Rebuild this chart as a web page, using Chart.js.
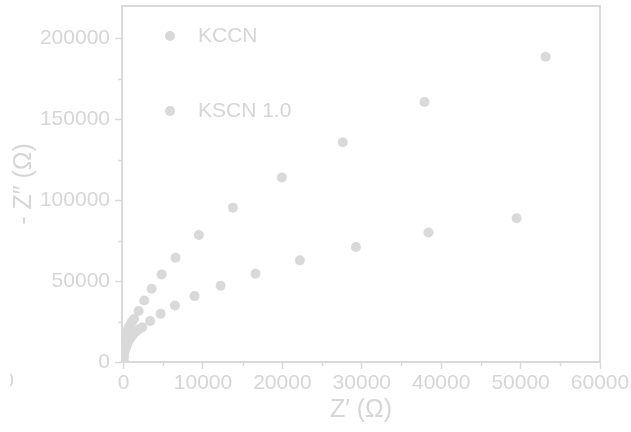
<!DOCTYPE html>
<html>
<head>
<meta charset="utf-8">
<script src="https://cdn.jsdelivr.net/npm/chart.js@4"></script>
<style>
  html, body { margin: 0; padding: 0; background: #ffffff; }
  #wrap { width: 631px; height: 432px; }
</style>
</head>
<body>
<div id="wrap"><canvas id="c" width="631" height="432"></canvas></div>
<script>
// ---- data ----
const seriesNames = ['KCCN', 'KSCN 1.0'];

const kccnX = [53150, 37900, 27600, 19940, 13770, 9480, 6550, 4790, 3530, 2610, 1890, 1320,
               1080, 880, 720, 570, 460, 380, 300, 250, 180, 130, 90, 60, 30, 0, 0, 0, 0];
const kccnY = [188600, 160700, 135800, 114000, 95400, 78500, 64500, 54150, 45300, 38050, 31560, 26600,
               25000, 23500, 22000, 20400, 18800, 17300, 15800, 14200, 12600, 11100, 9500, 8000, 6600, 5260, 4000, 2780, 930];

const kscnX = [49500, 38400, 29260, 22200, 16620, 12220, 8940, 6460, 4660, 3340, 2360,
               1930, 1570, 1260, 1000, 800, 630, 500, 380, 280, 190, 120, 60, 20, 0, -20];
const kscnY = [88800, 80100, 71040, 62810, 54580, 47150, 40720, 34960, 29830, 25370, 21530,
               20200, 18870, 17300, 15780, 14400, 13000, 11600, 10200, 8900, 7700, 6400, 5260, 4100, 3090, 1240];

const xMajorTicks = [0, 10000, 20000, 30000, 40000, 50000, 60000];
const xMinorTicks = [5000, 15000, 25000, 35000, 45000, 55000];
const yMajorTicks = [0, 50000, 100000, 150000, 200000];
const yMinorTicks = [25000, 75000, 125000, 175000];

const xTitle = 'Z\u2032 (\u03A9)';
const yTitle = '- Z\u2033 (\u03A9)';

// ---- styling ----
const GREY = '#d9d9d9';
const TEXT = '#d6d6d6';
const FONT = "'Liberation Sans', Arial, sans-serif";

function toPoints(xs, ys) { return xs.map((x, i) => ({ x: x, y: ys[i] })); }

const frameAndExtras = {
  id: 'frameAndExtras',
  afterDraw(chart) {
    const { ctx, chartArea: a, scales } = chart;
    ctx.save();
    ctx.strokeStyle = GREY;
    ctx.lineWidth = 2;
    ctx.beginPath();
    ctx.moveTo(a.left, a.top);
    ctx.lineTo(a.right, a.top);
    ctx.lineTo(a.right, a.bottom);
    ctx.stroke();
    ctx.lineWidth = 1.5;
    ctx.beginPath();
    xMinorTicks.forEach(v => {
      const px = Math.round(scales.x.getPixelForValue(v)) + 0.5;
      ctx.moveTo(px, a.bottom);
      ctx.lineTo(px, a.bottom + 4);
    });
    yMinorTicks.forEach(v => {
      const py = Math.round(scales.y.getPixelForValue(v)) + 0.5;
      ctx.moveTo(a.left, py);
      ctx.lineTo(a.left - 4, py);
    });
    ctx.stroke();
    const ds = chart.data.datasets;
    const lx = 170, ly = [36, 111];
    ds.forEach((d, i) => {
      ctx.fillStyle = d.backgroundColor;
      ctx.beginPath();
      ctx.arc(lx, ly[i], 5, 0, Math.PI * 2);
      ctx.fill();
      ctx.fillStyle = TEXT;
      ctx.font = '21px ' + FONT;
      ctx.textAlign = 'left';
      ctx.textBaseline = 'middle';
      ctx.fillText(d.label, 198, ly[i]);
    });
    ctx.save();
    ctx.beginPath();
    ctx.rect(10, 360, 10, 40);
    ctx.clip();
    ctx.fillStyle = TEXT;
    ctx.font = '21px ' + FONT;
    ctx.textAlign = 'right';
    ctx.textBaseline = 'middle';
    ctx.fillText('0', 14, 381);
    ctx.restore();
    ctx.restore();
  }
};

new Chart(document.getElementById('c'), {
  type: 'scatter',
  data: {
    datasets: [
      { label: seriesNames[0], data: toPoints(kccnX, kccnY), backgroundColor: GREY, borderColor: GREY,
        pointRadius: 5, pointBorderWidth: 0, clip: 0 },
      { label: seriesNames[1], data: toPoints(kscnX, kscnY), backgroundColor: GREY, borderColor: GREY,
        pointRadius: 5, pointBorderWidth: 0, clip: 0 }
    ]
  },
  options: {
    responsive: false,
    animation: false,
    devicePixelRatio: 1,
    layout: { padding: { left: 0, top: 6, right: 31, bottom: 0 } },
    plugins: { legend: { display: false }, tooltip: { enabled: false } },
    scales: {
      x: {
        type: 'linear',
        min: -200,
        max: 60000,
        afterBuildTicks: s => { s.ticks = xMajorTicks.map(v => ({ value: v })); },
        afterFit: s => { s.height = 70; s.paddingLeft = 0; s.paddingRight = 0; },
        border: { display: true, color: GREY, width: 2 },
        grid: { drawOnChartArea: false, drawTicks: true, tickLength: 7, color: GREY, tickWidth: 1.5 },
        ticks: { color: TEXT, font: { size: 21, family: FONT }, padding: 2, maxRotation: 0,
                 callback: v => String(v) },
        title: { display: true, text: xTitle, color: TEXT, font: { size: 25, family: FONT },
                 padding: { top: 0, bottom: 7 } }
      },
      y: {
        type: 'linear',
        min: 0,
        max: 220000,
        afterBuildTicks: s => { s.ticks = yMajorTicks.map(v => ({ value: v })); },
        afterFit: s => { s.width = 122; s.paddingTop = 0; s.paddingBottom = 0; },
        border: { display: true, color: GREY, width: 2 },
        grid: { drawOnChartArea: false, drawTicks: true, tickLength: 7, color: GREY, tickWidth: 1.5 },
        ticks: { color: TEXT, font: { size: 21, family: FONT }, padding: 5,
                 callback: v => String(v) },
        title: { display: true, text: yTitle, color: TEXT, font: { size: 25, family: FONT },
                 padding: { top: 9, bottom: 0 } }
      }
    }
  },
  plugins: [frameAndExtras]
});
</script>
</body>
</html>
